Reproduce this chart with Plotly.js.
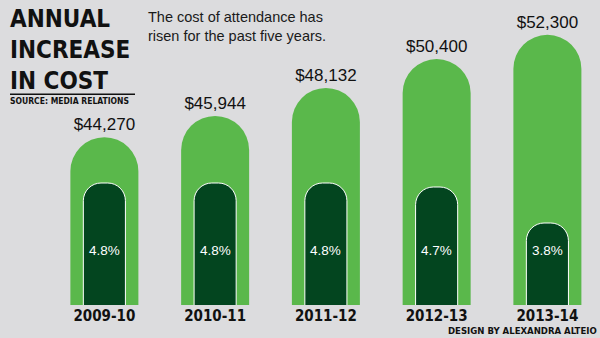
<!DOCTYPE html>
<html>
<head>
<meta charset="utf-8">
<script src="https://cdn.plot.ly/plotly-3.0.1.min.js"></script>
<style>
  html, body { margin: 0; padding: 0; background: #dcdcde; }
  #chart { width: 600px; height: 338px; }
</style>
</head>
<body>
<div id="chart"></div>
<script>
// ---- data ----
const categories = ['2009-10', '2010-11', '2011-12', '2012-13', '2013-14'];
const costs = [44270, 45944, 48132, 50400, 52300];
const increases = [4.8, 4.8, 4.8, 4.7, 3.8];
const percentLabels = increases.map(v => v.toFixed(1) + '%');

const titleLines = ['ANNUAL', 'INCREASE', 'IN COST'];
const subtitleLines = ['The cost of attendance has', 'risen for the past five years.'];
const sourceText = 'SOURCE: MEDIA RELATIONS';
const creditText = 'DESIGN BY ALEXANDRA ALTEIO';

// ---- layout helpers (pixel -> paper) ----
const W = 600, H = 338;
const M = { l: 49, r: 0, t: 0, b: 33 };
const PW = W - M.l - M.r, PH = H - M.t - M.b;
const px = x => (x - M.l) / PW;
const py = y => (M.t + PH - y) / PH;

const BG = '#dcdcde';
const GREEN = '#5ab84b';
const DARK = '#03451f';
const COND = '"DejaVu Sans Condensed", "Liberation Sans Narrow", "Arial Narrow", sans-serif';
const SANS = '"Liberation Sans", Arimo, Arial, sans-serif';

const traces = [
  {
    type: 'bar',
    x: categories,
    y: costs,
    yaxis: 'y',
    width: 0.614,
    marker: { color: GREEN, cornerradius: '50%', line: { width: 0 } },
    texttemplate: '$%{y:,}',
    textposition: 'outside',
    constraintext: 'none',
    textfont: { family: SANS, size: 17, color: '#111111' },
    hoverinfo: 'skip',
    cliponaxis: true
  },
  {
    type: 'bar',
    x: categories,
    y: increases,
    yaxis: 'y2',
    width: 0.38,
    marker: { color: DARK, cornerradius: '42%', line: { color: '#ffffff', width: 1 } },
    hoverinfo: 'skip',
    cliponaxis: true
  }
];

const annotations = [];
annotations.push({
  xref: 'paper', yref: 'paper', x: px(8), y: py(50),
  xanchor: 'left', yanchor: 'middle', align: 'left', showarrow: false,
  text: titleLines.join('<br>'),
  font: { family: COND, size: 24, weight: 'bold', color: '#111111' }
});
annotations.push({
  xref: 'paper', yref: 'paper', x: px(146), y: py(26),
  xanchor: 'left', yanchor: 'middle', align: 'left', showarrow: false,
  text: subtitleLines.join('<br>'),
  font: { family: SANS, size: 14.5, color: '#1a1a1a' }
});
annotations.push({
  xref: 'paper', yref: 'paper', x: px(8), y: py(101.5),
  xanchor: 'left', yanchor: 'middle', showarrow: false, text: sourceText,
  font: { family: COND, size: 8.5, weight: 'bold', color: '#111111' }
});
annotations.push({
  xref: 'paper', yref: 'paper', x: px(599), y: py(330),
  xanchor: 'right', yanchor: 'middle', showarrow: false, text: creditText,
  font: { family: COND, size: 9.5, weight: 'bold', color: '#111111' }
});
categories.forEach((c, i) => annotations.push({
  xref: 'x', yref: 'paper', x: c, y: py(250),
  xanchor: 'center', yanchor: 'middle', showarrow: false, text: percentLabels[i],
  font: { family: SANS, size: 13.5, color: '#ffffff' }
}));

const layout = {
  width: W, height: H,
  margin: M,
  paper_bgcolor: BG,
  plot_bgcolor: BG,
  showlegend: false,
  barmode: 'overlay',
  xaxis: {
    type: 'category',
    range: [-0.5, 4.475],
    showgrid: false, zeroline: false, showline: false, ticks: '',
    tickfont: { family: COND, size: 15, weight: 'bold', color: '#111111' },
    fixedrange: true
  },
  yaxis: {
    range: [31120, 55029],
    visible: false, showgrid: false, zeroline: false, fixedrange: true
  },
  yaxis2: {
    overlaying: 'y',
    range: [1.75, 9.375],
    visible: false, showgrid: false, zeroline: false, fixedrange: true
  },
  shapes: [{
    type: 'line', xref: 'paper', yref: 'paper',
    x0: px(10), x1: px(135), y0: py(94.3), y1: py(94.3),
    line: { color: '#111111', width: 1.5 }
  }],
  annotations: annotations
};

Plotly.newPlot('chart', traces, layout, { displayModeBar: false, staticPlot: true });
</script>
</body>
</html>
